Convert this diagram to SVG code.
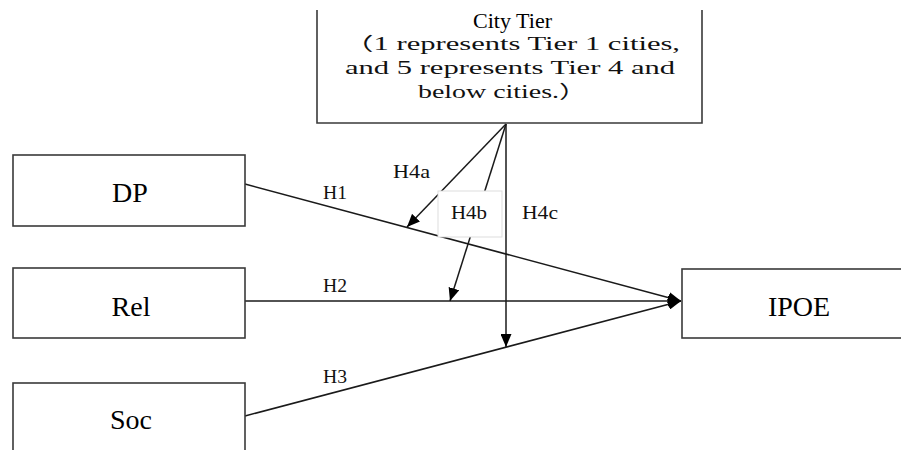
<svg xmlns="http://www.w3.org/2000/svg" width="901" height="450" viewBox="0 0 901 450">
  <style>
    .box { fill: #ffffff; stroke: #3a3a3a; stroke-width: 1.6; }
    .node { font-family: "Liberation Serif", "Times New Roman", serif; font-size: 28px; fill: #000; text-anchor: middle; }
    .title { font-family: "Liberation Serif", "Times New Roman", serif; font-size: 20px; fill: #000; }
    .mono { font-family: "Liberation Serif", "Noto Sans CJK SC", serif; font-size: 18px; fill: #111; }
    .edge { stroke: #1a1a1a; stroke-width: 1.5; fill: none; marker-end: url(#arrow); }
  </style>
  <defs>
    <marker id="arrow" markerUnits="userSpaceOnUse" markerWidth="13" markerHeight="11" viewBox="0 0 13 11" refX="13" refY="5.5" orient="auto">
      <path d="M0,0 L13,5.5 L0,11 z" fill="#000"/>
    </marker>
  </defs>
  <rect width="901" height="450" fill="#ffffff"/>

  <g id="connectors">
    <line class="edge" x1="245" y1="184" x2="681" y2="301"/>
    <line class="edge" x1="245" y1="301" x2="681" y2="301"/>
    <line class="edge" x1="245" y1="416" x2="681" y2="301"/>
    <line class="edge" x1="506" y1="124" x2="407" y2="227"/>
    <line class="edge" x1="506" y1="124" x2="450" y2="301"/>
    <line class="edge" x1="506" y1="124" x2="506" y2="347"/>
  </g>

  <g id="city-tier">
    <path d="M317,10 V123 H702 V10" fill="#ffffff" stroke="#3a3a3a" stroke-width="1.6"/>
    <text class="title" x="473" y="28" textLength="79" lengthAdjust="spacingAndGlyphs">City Tier</text>
    <text class="mono" x="343" y="50" textLength="337" lengthAdjust="spacingAndGlyphs">（1 represents Tier 1 cities,</text>
    <text class="mono" x="345" y="74" textLength="330" lengthAdjust="spacingAndGlyphs">and 5 represents Tier 4 and</text>
    <text class="mono" x="418" y="98" textLength="169" lengthAdjust="spacingAndGlyphs">below cities.）</text>
  </g>

  <g id="dp">
    <rect class="box" x="13" y="155" width="232" height="71"/>
    <text class="node" x="130" y="202">DP</text>
  </g>
  <g id="rel">
    <rect class="box" x="13" y="268" width="232" height="70"/>
    <text class="node" x="131" y="316">Rel</text>
  </g>
  <g id="soc">
    <rect class="box" x="13" y="383" width="232" height="80"/>
    <text class="node" x="131" y="429">Soc</text>
  </g>
  <g id="ipoe">
    <rect class="box" x="682" y="269" width="230" height="69"/>
    <text class="node" x="799" y="316">IPOE</text>
  </g>

  <g id="labels">
    <text class="mono" x="323" y="199" textLength="24" lengthAdjust="spacingAndGlyphs">H1</text>
    <text class="mono" x="323" y="292" textLength="24" lengthAdjust="spacingAndGlyphs">H2</text>
    <text class="mono" x="323" y="383" textLength="24" lengthAdjust="spacingAndGlyphs">H3</text>
    <text class="mono" x="393" y="178" textLength="37" lengthAdjust="spacingAndGlyphs">H4a</text>
    <rect x="438" y="191" width="64" height="46" fill="#ffffff" stroke="#dddddd" stroke-width="1"/>
    <text class="mono" x="451" y="219" textLength="36" lengthAdjust="spacingAndGlyphs">H4b</text>
    <text class="mono" x="522" y="219" textLength="36" lengthAdjust="spacingAndGlyphs">H4c</text>
  </g>
</svg>
